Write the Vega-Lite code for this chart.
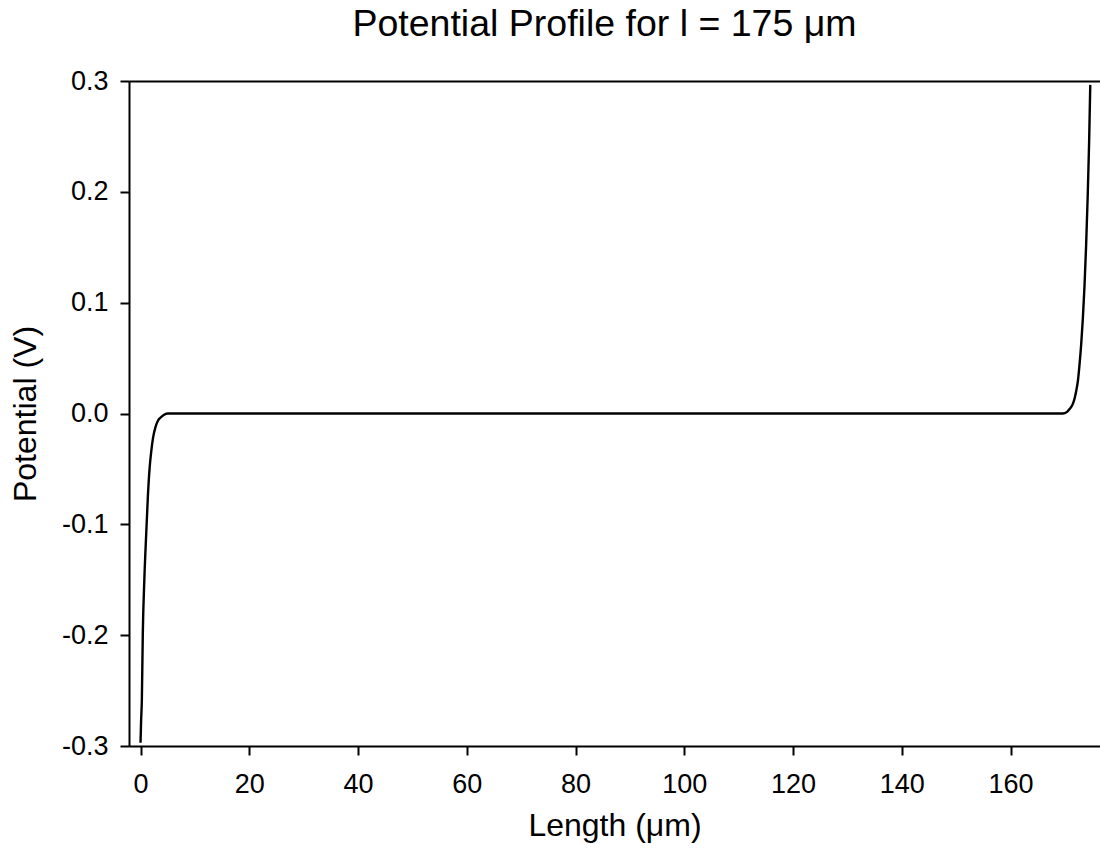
{
  "$schema": "https://vega.github.io/schema/vega-lite/v6.json",
  "autosize": "none",
  "width": 971,
  "height": 665,
  "padding": {"left": 129, "top": 81, "right": 0, "bottom": 107},
  "background": "white",
  "config": {
    "view": {"stroke": null},
    "font": "Liberation Sans",
    "axis": {"grid": false, "domainColor": "black", "tickColor": "black", "domainWidth": 2, "tickWidth": 2, "labelColor": "black", "titleColor": "black", "labelFont": "Liberation Sans", "titleFont": "Liberation Sans", "titleFontWeight": "normal", "labelFontSize": 27, "titleFontSize": 32}
  },
  "title": {"text": "Potential Profile for l = 175 μm", "fontSize": 37.5, "fontWeight": "normal", "font": "Liberation Sans", "color": "black", "anchor": "middle", "frame": "group", "dx": -10, "offset": 27, "dy": 33, "baseline": "alphabetic"},
  "resolve": {"axis": {"x": "independent"}},
  "data": {"values": [
    {"x": 0, "y": -0.297},
    {"x": 0.1, "y": -0.278},
    {"x": 0.24, "y": -0.259},
    {"x": 0.42, "y": -0.198},
    {"x": 0.7, "y": -0.15},
    {"x": 1.05, "y": -0.108},
    {"x": 1.35, "y": -0.075},
    {"x": 1.66, "y": -0.05},
    {"x": 2.0, "y": -0.033},
    {"x": 2.3, "y": -0.022},
    {"x": 2.76, "y": -0.012},
    {"x": 3.2, "y": -0.0065},
    {"x": 3.6, "y": -0.004},
    {"x": 4.2, "y": -0.0015},
    {"x": 5.0, "y": 0},
    {"x": 40, "y": 0},
    {"x": 80, "y": 0},
    {"x": 120, "y": 0},
    {"x": 169.6, "y": 0},
    {"x": 170.4, "y": 0.0015},
    {"x": 170.85, "y": 0.004},
    {"x": 171.4, "y": 0.008},
    {"x": 171.8, "y": 0.014},
    {"x": 172.1, "y": 0.021},
    {"x": 172.4, "y": 0.03},
    {"x": 172.7, "y": 0.045},
    {"x": 173.0, "y": 0.063},
    {"x": 173.3, "y": 0.086},
    {"x": 173.6, "y": 0.115},
    {"x": 173.9, "y": 0.152},
    {"x": 174.2, "y": 0.198},
    {"x": 174.45, "y": 0.245},
    {"x": 174.66, "y": 0.2965}
  ]},
  "layer": [
    {
      "mark": {"type": "line", "color": "black", "strokeWidth": 2.4, "interpolate": "monotone", "clip": true},
      "encoding": {
        "x": {"field": "x", "type": "quantitative", "scale": {"domain": [-2.12, 176.45], "nice": false, "zero": false},
          "axis": {"title": "Length (μm)", "values": [0, 20, 40, 60, 80, 100, 120, 140, 160], "tickSize": 9, "labelPadding": 16, "titlePadding": 13}},
        "y": {"field": "y", "type": "quantitative", "scale": {"domain": [-0.3, 0.3], "nice": false, "zero": false},
          "axis": {"title": "Potential (V)", "values": [-0.3, -0.2, -0.1, 0, 0.1, 0.2, 0.3], "labelExpr": "replace(format(datum.value, '.1f'), '\u2212', '-')", "tickSize": 9, "labelPadding": 12, "titlePadding": 19}}
      }
    },
    {
      "mark": {"type": "rule", "opacity": 0},
      "encoding": {
        "x": {"field": "x", "type": "quantitative", "axis": {"orient": "top", "title": null, "labels": false, "ticks": false, "domain": true, "minExtent": 0, "maxExtent": 0}}
      }
    }
  ]
}
